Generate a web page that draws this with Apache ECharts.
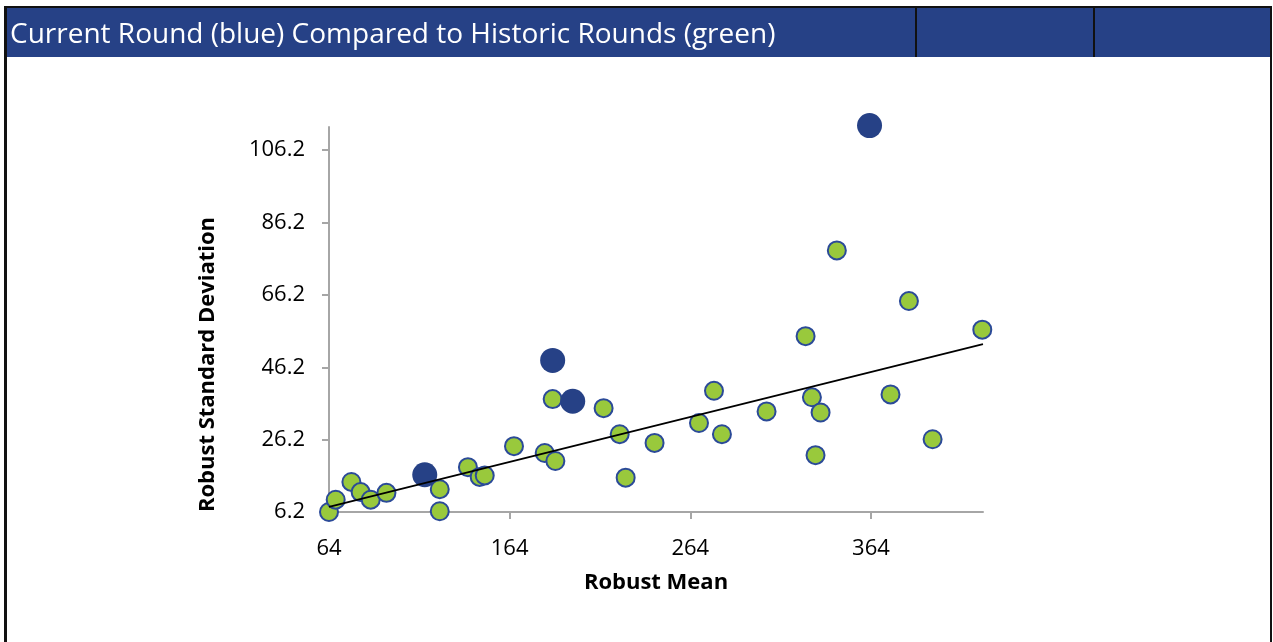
<!DOCTYPE html>
<html>
<head>
<meta charset="utf-8">
<script src="https://cdn.jsdelivr.net/npm/echarts@6/dist/echarts.min.js"></script>
<style>
html,body{margin:0;padding:0;background:#fff;}
#chart{width:1273px;height:642px;}
</style>
</head>
<body>
<div id="chart"></div>
<script>
// historic rounds (green)
var historicMean = [64, 67.7, 76.4, 81.5, 87.1, 95.8, 125.3, 125.3, 140.9, 147.4, 150.2, 166.4,
	183.4, 189.3, 187.8, 216.0, 224.9, 228.2, 244.2, 268.8, 277.1, 281.5, 306.2, 327.8,
	331.3, 333.3, 336.1, 345.1, 374.8, 385.0, 398.1, 425.6];
var historicSd = [6.2, 9.6, 14.5, 11.7, 9.6, 11.5, 12.5, 6.4, 18.6, 15.9, 16.3, 24.4,
	22.5, 20.3, 37.4, 34.9, 27.7, 15.7, 25.3, 30.8, 39.7, 27.7, 34.0, 54.8,
	37.9, 21.9, 33.7, 78.5, 38.7, 64.5, 26.3, 56.6];
// current round (blue)
var currentMean = [117, 187.8, 198.9, 363.2];
var currentSd = [16.5, 48.1, 36.8, 113.0];
// trend line end points
var trendMean = [64, 426];
var trendSd = [7.6, 52.6];
// axis ticks
var xTicks = [64, 164, 264, 364];
var yTicks = [6.2, 26.2, 46.2, 66.2, 86.2, 106.2];

var title = 'Current Round (blue) Compared to Historic Rounds (green)';

function pairs(a, b) {
	var out = [];
	for (var i = 0; i < a.length; i++) {
		out.push([a[i], b[i]]);
	}
	return out;
}

var chart = echarts.init(document.getElementById('chart'));
var option = {
	animation: false,
	backgroundColor: '#fff',
	grid: {left: 329, right: 290, top: 127, bottom: 130},
	graphic: [
		{type: 'rect', z: 10, shape: {x: 5, y: 6, width: 1266, height: 51}, style: {fill: '#264186'}},
		{type: 'line', z: 11, shape: {x1: 4, y1: 7, x2: 1272, y2: 7}, style: {stroke: '#111', lineWidth: 2}},
		{type: 'line', z: 11, shape: {x1: 5.5, y1: 6, x2: 5.5, y2: 642}, style: {stroke: '#111', lineWidth: 3}},
		{type: 'line', z: 11, shape: {x1: 1271, y1: 6, x2: 1271, y2: 642}, style: {stroke: '#111', lineWidth: 2}},
		{type: 'line', z: 11, shape: {x1: 916, y1: 6, x2: 916, y2: 57}, style: {stroke: '#111', lineWidth: 2}},
		{type: 'line', z: 11, shape: {x1: 1094, y1: 6, x2: 1094, y2: 57}, style: {stroke: '#111', lineWidth: 2}},
		{type: 'text', z: 12, left: 10, top: 21, style: {
			text: title, fill: '#fff', font: '28px "Open Sans", sans-serif'
		}}
	],
	xAxis: {
		type: 'value',
		min: 64,
		max: 426,
		name: 'Robust Mean',
		nameLocation: 'middle',
		nameGap: 60,
		nameTextStyle: {color: '#000', fontSize: 22, fontWeight: 'bold', fontFamily: 'Open Sans'},
		splitLine: {show: false},
		axisLine: {lineStyle: {color: '#a6a6a6', width: 2}},
		axisTick: {show: true, length: 7, lineStyle: {color: '#a6a6a6', width: 2}, customValues: xTicks},
		axisLabel: {color: '#000', fontSize: 22, margin: 26, fontFamily: 'Open Sans', customValues: xTicks}
	},
	yAxis: {
		type: 'value',
		min: 6.2,
		max: 112.6,
		name: 'Robust Standard Deviation',
		nameLocation: 'middle',
		nameGap: 110,
		nameRotate: 90,
		nameTextStyle: {
			color: '#000', fontSize: 22, fontWeight: 'bold', fontFamily: 'Open Sans',
			padding: [0, 90, 0, 0]
		},
		splitLine: {show: false},
		axisLine: {show: true, lineStyle: {color: '#a6a6a6', width: 2}},
		axisTick: {show: true, length: 7, lineStyle: {color: '#a6a6a6', width: 2}, customValues: yTicks},
		axisLabel: {
			color: '#000', fontSize: 22, margin: 24, fontFamily: 'Open Sans', customValues: yTicks,
			formatter: function (v) { return v.toFixed(1); }
		}
	},
	series: [
		{
			name: 'Historic',
			type: 'scatter',
			clip: false,
			symbolSize: 18,
			itemStyle: {color: '#99c93c', borderColor: '#2b4a98', borderWidth: 2, opacity: 1},
			data: pairs(historicMean, historicSd),
			z: 2
		},
		{
			name: 'Current',
			type: 'scatter',
			clip: false,
			symbolSize: 25,
			itemStyle: {color: '#264186', opacity: 1},
			data: pairs(currentMean, currentSd),
			z: 3
		},
		{
			name: 'Trend',
			type: 'line',
			symbol: 'none',
			lineStyle: {color: '#000', width: 1.8},
			data: pairs(trendMean, trendSd),
			z: 4
		}
	]
};
chart.setOption(option);
</script>
</body>
</html>
